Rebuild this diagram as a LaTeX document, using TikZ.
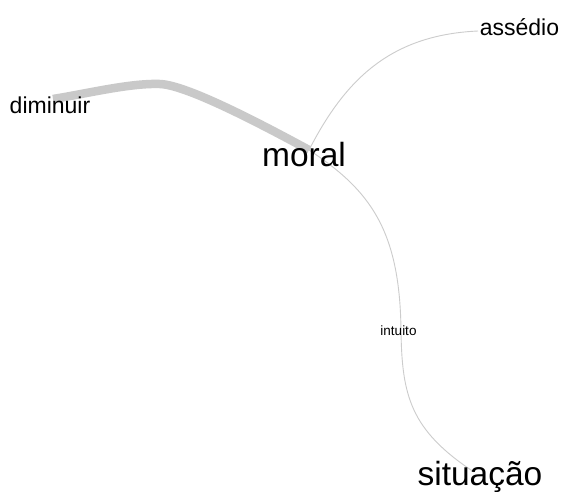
\documentclass[tikz,border=0pt]{standalone}
\usepackage{fontspec}
\setmainfont{Liberation Sans}
\begin{document}
\begin{tikzpicture}[x=1pt,y=-1pt,
  thinedge/.style={draw=black!20, line width=0.9pt},
  thickedge/.style={draw=black!21, line width=8.5pt},
  lbl/.style={inner sep=0pt, anchor=base, text=black},
  big/.style={lbl, font=\fontsize{33.5}{40}\selectfont},
  mid/.style={lbl, font=\fontsize{23}{28}\selectfont},
  small/.style={lbl, font=\fontsize{13.5}{16}\selectfont}]
\useasboundingbox[fill=white] (0,0) rectangle (563,491);
% vertices
\coordinate (vmoral) at (309,150);
\coordinate (vdim) at (53,99);
\coordinate (vass) at (478,31);
\coordinate (vint) at (401,331);
\coordinate (vsit) at (474,472);
% edges
\draw[thickedge] (vdim) .. controls (90,93) and (130,83) .. (160,84)
  .. controls (185,85) and (250,118) .. (vmoral);
\draw[thinedge] (vmoral) .. controls (345,80) and (390,35) .. (vass);
\draw[thinedge] (vmoral) .. controls (370,190) and (400,230) .. (vint);
\draw[thinedge] (vint) .. controls (402,395) and (410,430) .. (vsit);
% labels
\node[big] (moral) at (304,166) {moral};
\node[mid] (diminuir) at (50,113) {diminuir};
\node[mid] (assedio) at (519.5,35) {assédio};
\node[big] (situacao) at (480,485) {situação};
\node[small] (intuito) at (398.5,335) {intuito};
\end{tikzpicture}
\end{document}
